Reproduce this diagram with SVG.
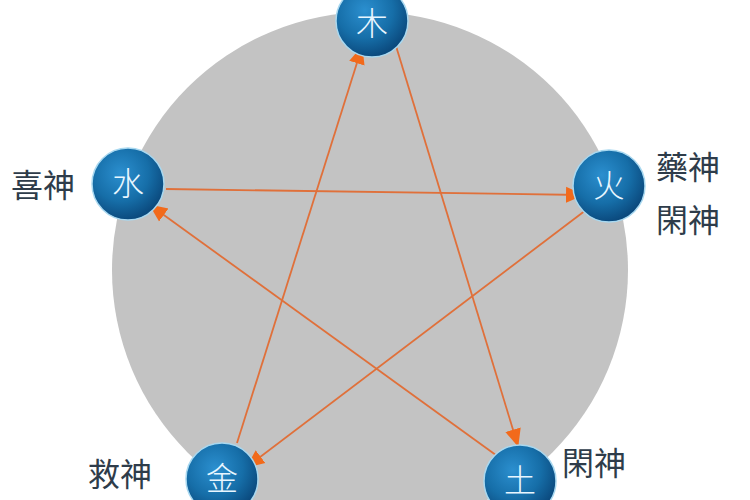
<svg xmlns="http://www.w3.org/2000/svg" width="750" height="500" viewBox="0 0 750 500">
<defs>
<radialGradient id="ball" cx="40%" cy="35%" r="65%">
<stop offset="0" stop-color="#2b8fcf"/>
<stop offset="0.6" stop-color="#166ea8"/>
<stop offset="1" stop-color="#0b4a7e"/>
</radialGradient>
<marker id="ah" markerWidth="20" markerHeight="20" refX="17" refY="10" orient="auto" markerUnits="userSpaceOnUse">
<path d="M0,2 L18,10 L0,18 Z" fill="#f26a1b"/>
</marker>
<style>
.ball{fill:url(#ball);stroke:#a8d8f0;stroke-width:1.5}
.el{font-family:"Noto Sans CJK TC","Noto Sans CJK SC",sans-serif;font-size:32px;font-weight:300;fill:#e8f6ff;text-anchor:middle}
.lbl{font-family:"Noto Sans CJK TC","Noto Sans CJK SC",sans-serif;font-size:32px;fill:#2e3c4a}
.con{stroke:#e0703a;stroke-width:1.8;fill:none;marker-end:url(#ah)}
</style>
</defs>
<rect width="750" height="500" fill="#ffffff"/>
<circle cx="370" cy="270" r="258" fill="#c3c3c3"/>
<g id="connectors">
<line class="con" x1="166" y1="189" x2="583" y2="195"/>
<line class="con" x1="586" y1="210" x2="247" y2="467"/>
<line class="con" x1="237" y1="443" x2="362" y2="47"/>
<line class="con" x1="396" y1="46" x2="518" y2="446"/>
<line class="con" x1="500" y1="458" x2="150" y2="205"/>
</g>
<g id="wood"><circle class="ball" cx="372" cy="21" r="36"/><text class="el" x="372" y="35">木</text></g>
<g id="fire"><circle class="ball" cx="609" cy="186" r="36"/><text class="el" x="609" y="197">火</text></g>
<g id="water"><circle class="ball" cx="128" cy="184" r="36"/><text class="el" x="128" y="195">水</text></g>
<g id="metal"><circle class="ball" cx="222" cy="479" r="36"/><text class="el" x="222" y="490">金</text></g>
<g id="earth"><circle class="ball" cx="520" cy="481" r="36"/><text class="el" x="520" y="492">土</text></g>
<g id="labels">
<text class="lbl" x="11" y="197">喜神</text>
<text class="lbl" x="656" y="179">藥神</text>
<text class="lbl" x="656" y="232">閑神</text>
<text class="lbl" x="88" y="486">救神</text>
<text class="lbl" x="562" y="475">閑神</text>
</g>
</svg>
